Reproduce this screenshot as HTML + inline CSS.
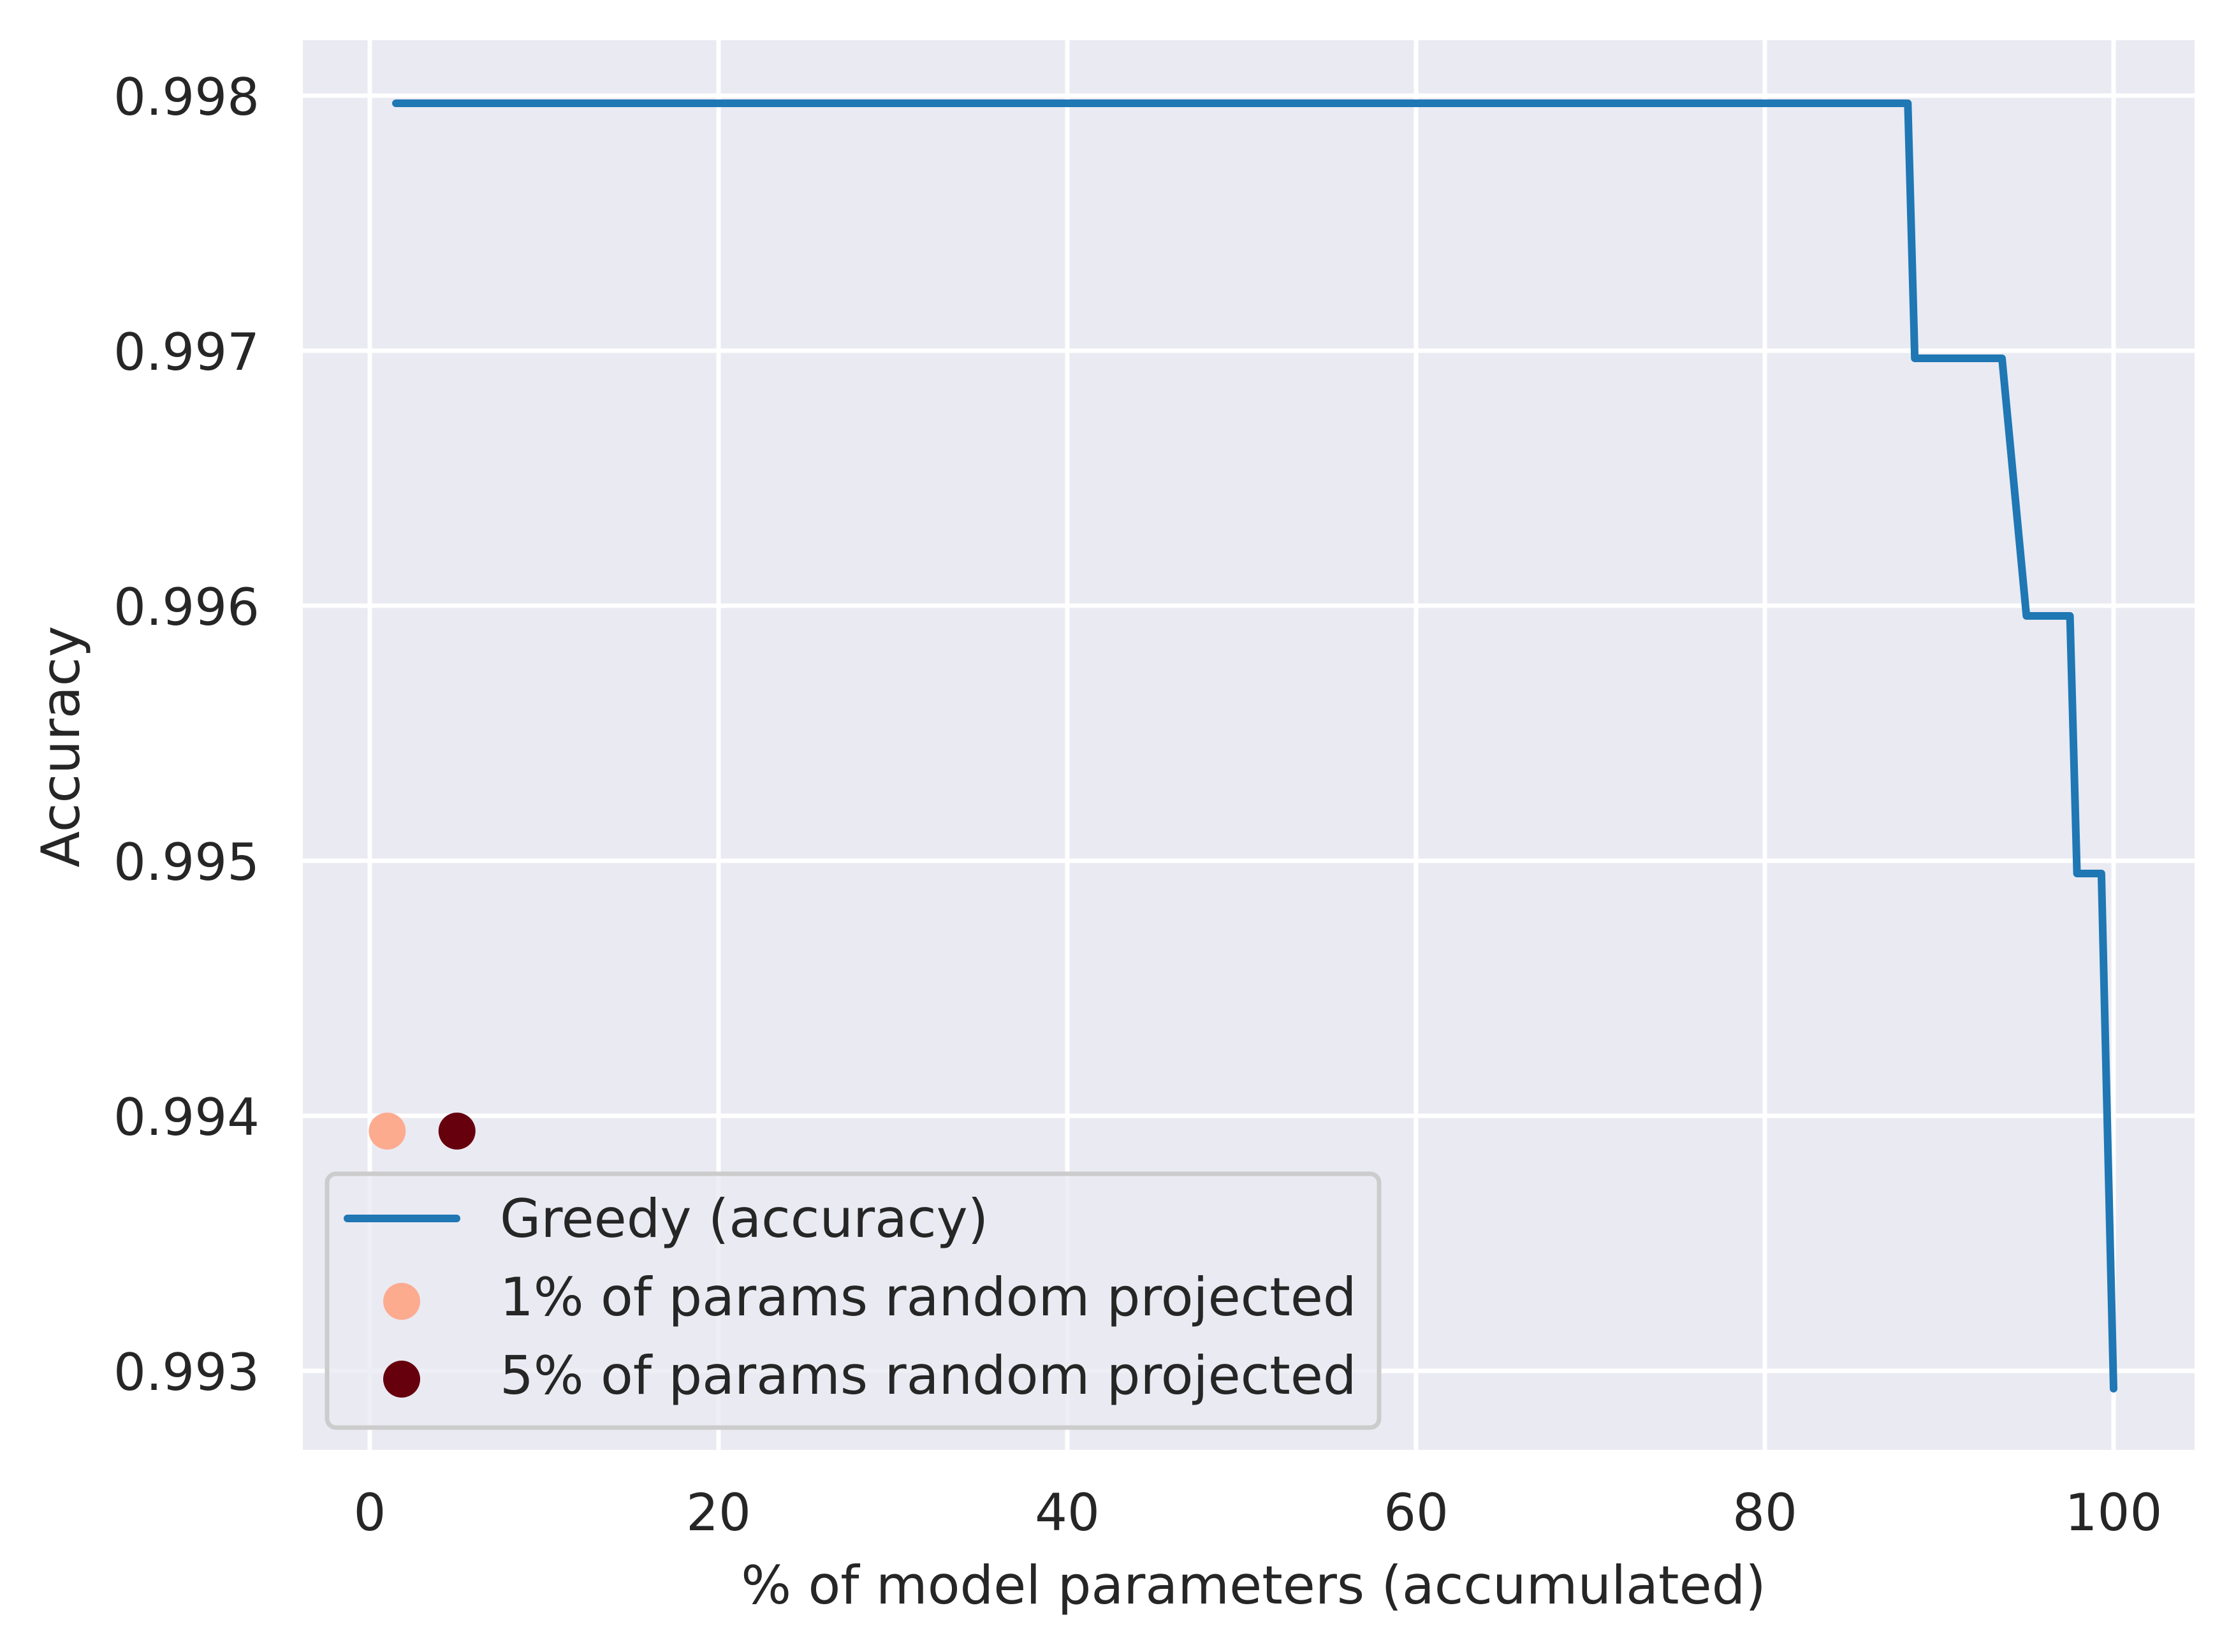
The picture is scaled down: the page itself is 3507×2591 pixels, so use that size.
<!DOCTYPE html>
<html><head><meta charset="utf-8"><style>
html,body{margin:0;padding:0;background:#fff;}
svg{display:block;font-family:"DejaVu Sans","Liberation Sans",sans-serif;}
</style></head><body>
<svg id="chart" width="3507" height="2591" viewBox="0 0 3507 2591" xmlns="http://www.w3.org/2000/svg">
<rect x="0" y="0" width="3507" height="2591" fill="#ffffff"/>
<rect x="475" y="63" width="2967" height="2211" fill="#EAEAF2"/>
<g id="grid"></g>
<g id="series"></g>
<g id="ticks" fill="#262626" font-size="80"></g>
<text x="1966" y="2515" text-anchor="middle" font-size="83" fill="#262626">% of model parameters (accumulated)</text>
<text transform="translate(124,1171) rotate(-90)" text-anchor="middle" font-size="83" fill="#262626">Accuracy</text>
<g>
<rect x="513" y="1841" width="1650" height="398" rx="14" ry="14" fill="#EAEAF2" fill-opacity="0.8" stroke="#cccccc" stroke-width="7"/>
<line x1="545" y1="1911" x2="716" y2="1911" stroke="#1f77b4" stroke-width="12" stroke-linecap="round"/>
<text x="784" y="1940" font-size="83" fill="#262626">Greedy (accuracy)</text>
<circle cx="630" cy="2041" r="29" fill="#fcab8f"/>
<text x="784" y="2063" font-size="83" fill="#262626">1% of params random projected</text>
<circle cx="630" cy="2163" r="29" fill="#67000d"/>
<text x="784" y="2186" font-size="83" fill="#262626">5% of params random projected</text>
</g>
</svg>
<script>
const greedyX = [1.5, 88.2, 88.6, 93.6, 95.0, 97.5, 97.9, 99.3, 100];
const greedyY = [0.99797, 0.99797, 0.99697, 0.99697, 0.99596, 0.99596, 0.99495, 0.99495, 0.99293];
const scatterX = [1, 5];
const scatterY = [0.99394, 0.99394];
const scatterColors = ['#fcab8f', '#67000d'];
const scatterNames = ['point-1pct', 'point-5pct'];
const xTicks = [0, 20, 40, 60, 80, 100];
const yTicks = [0.993, 0.994, 0.995, 0.996, 0.997, 0.998];
const yTickLabels = ['0.993', '0.994', '0.995', '0.996', '0.997', '0.998'];

const NS = 'http://www.w3.org/2000/svg';
const plotL = 475, plotR = 3442, plotT = 63, plotB = 2274;
function xs(v){ return 580 + (v - 0) * 27.35; }
function ys(v){ return 150 + (0.998 - v) * 400000; }
function mk(tag, attrs, parent){ const e = document.createElementNS(NS, tag); for (const k in attrs) e.setAttribute(k, attrs[k]); parent.appendChild(e); return e; }

const grid = document.getElementById('grid');
const ticks = document.getElementById('ticks');
xTicks.forEach(t => {
  const l = mk('line', {x1: xs(t), x2: xs(t), y1: plotT, y2: plotB, stroke: '#fff', 'stroke-width': 7}, grid);
  
  
  const tx = mk('text', {x: xs(t), y: 2400, 'text-anchor': 'middle'}, ticks);
  tx.textContent = String(t);
  
  
});
yTicks.forEach((t, i) => {
  const l = mk('line', {x1: plotL, x2: plotR, y1: ys(t), y2: ys(t), stroke: '#fff', 'stroke-width': 7}, grid);
  
  
  const tx = mk('text', {x: 407, y: ys(t) + 30, 'text-anchor': 'end'}, ticks);
  tx.textContent = yTickLabels[i];
  
  
});
const series = document.getElementById('series');
const pts = greedyX.map((x, i) => xs(x).toFixed(1) + ',' + ys(greedyY[i]).toFixed(1)).join(' ');
const pl = mk('polyline', {points: pts, fill: 'none', stroke: '#1f77b4', 'stroke-width': 12, 'stroke-linecap': 'round', 'stroke-linejoin': 'round'}, series);


scatterX.forEach((x, i) => {
  const c = mk('circle', {cx: xs(x), cy: ys(scatterY[i]), r: 29, fill: scatterColors[i]}, series);
  
  
});
</script>
</body></html>
